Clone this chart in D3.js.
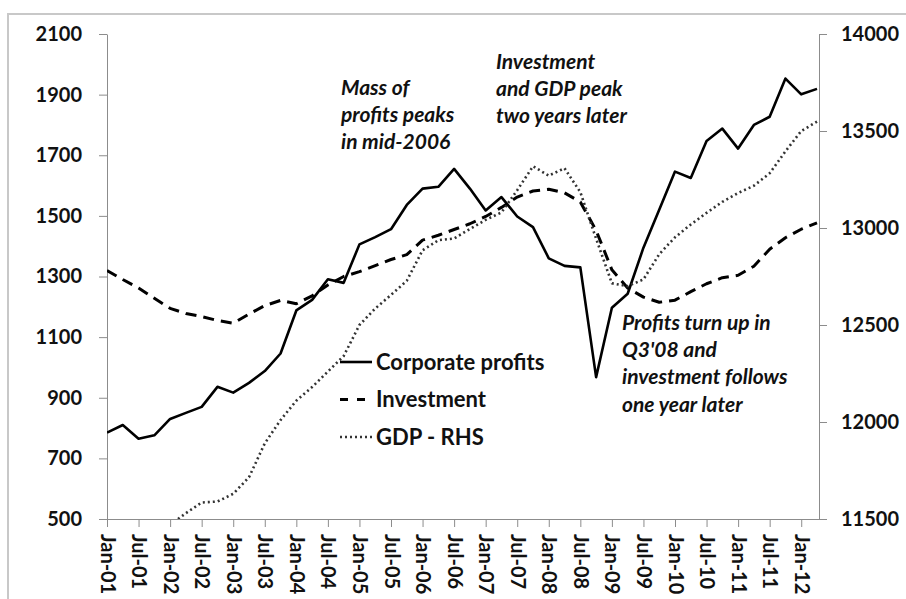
<!DOCTYPE html>
<html>
<head>
<meta charset="utf-8">
<script src="https://cdn.jsdelivr.net/npm/d3@7"></script>
<style>
  body { margin: 0; background: #fff; }
  svg { display: block; font-family: Lato, "Open Sans", sans-serif; }
  .tick text { fill: #111; }
</style>
</head>
<body>
<svg id="D3Container"></svg>
<script>
// Quarterly series, Q1 2001 to Q2 2012 (index 0 = Jan-01)
const profits = [
  785, 810, 765, 776, 830, 850, 870, 936, 917, 949, 988, 1046,
  1188, 1223, 1291, 1279, 1406, 1430, 1456, 1536, 1590, 1596, 1655, 1590,
  1518, 1562, 1498, 1463, 1360, 1335, 1330, 968, 1197, 1243, 1395, 1520,
  1646, 1625, 1747, 1788, 1722, 1800, 1827, 1953, 1901, 1919
];
const investment = [
  1320, 1290, 1262, 1228, 1195, 1178, 1168, 1155, 1146, 1176, 1204, 1221,
  1210, 1236, 1272, 1300, 1316, 1336, 1356, 1372, 1420, 1436, 1455, 1474,
  1498, 1528, 1562, 1582, 1588, 1576, 1546, 1452, 1322, 1262, 1232, 1215,
  1222, 1250, 1276, 1296, 1304, 1334, 1390, 1428, 1456, 1477
];
const gdp = [
  11360, 11370, 11360, 11400, 11470, 11530, 11585, 11590, 11630, 11715, 11890, 12010,
  12110, 12180, 12260, 12340, 12500, 12585, 12655, 12728, 12885, 12937, 12946, 12995,
  13042, 13080, 13195, 13318, 13270, 13308, 13185, 12945, 12715, 12700, 12735, 12865,
  12952, 13018, 13078, 13135, 13180, 13218, 13282, 13395, 13500, 13548
];
const tickLabels = [
  "Jan-01", "Jul-01", "Jan-02", "Jul-02", "Jan-03", "Jul-03", "Jan-04", "Jul-04",
  "Jan-05", "Jul-05", "Jan-06", "Jul-06", "Jan-07", "Jul-07", "Jan-08", "Jul-08",
  "Jan-09", "Jul-09", "Jan-10", "Jul-10", "Jan-11", "Jul-11", "Jan-12"
];
const leftTicks = [500, 700, 900, 1100, 1300, 1500, 1700, 1900, 2100];
const rightTicks = [11500, 12000, 12500, 13000, 13500, 14000];
const legendNames = ["Corporate profits", "Investment", "GDP - RHS"];
const notes = [
  {lines: ["Mass of", "profits peaks", "in mid-2006"], x: 341, y: 95},
  {lines: ["Investment", "and GDP peak", "two years later"], x: 496, y: 69},
  {lines: ["Profits turn up in", "Q3'08 and", "investment follows", "one year later"], x: 622, y: 330}
];

const width = 906, height = 599;
const plot = {left: 107, right: 819, top: 34, bottom: 519};

const svg = d3.select("#D3Container")
  .attr("width", width)
  .attr("height", height);

// light frame round the chart area
svg.append("rect")
  .attr("x", 8).attr("y", 14)
  .attr("width", 910).attr("height", 600)
  .attr("fill", "none")
  .attr("stroke", "#c8c8c8")
  .attr("stroke-width", 2);

const x = d3.scaleLinear().domain([0, 45]).range([plot.left, 817]);
const yLeft = d3.scaleLinear().domain([500, 2100]).range([plot.bottom, plot.top]);
const yRight = d3.scaleLinear().domain([11500, 14000]).range([plot.bottom, plot.top]);

svg.append("defs").append("clipPath").attr("id", "plotClip")
  .append("rect")
  .attr("x", plot.left).attr("y", plot.top - 5)
  .attr("width", plot.right - plot.left + 2)
  .attr("height", plot.bottom - plot.top + 5);

function styleAxis(g) {
  g.attr("font-family", null);
  g.select(".domain").attr("stroke", "#8c8c8c");
  g.selectAll(".tick line").attr("stroke", "#8c8c8c");
  g.selectAll(".tick text")
    .attr("font-size", 20)
    .attr("font-weight", "bold");
}

svg.append("g")
  .attr("transform", `translate(${plot.left},0)`)
  .call(d3.axisLeft(yLeft).tickValues(leftTicks).tickFormat(d3.format("d"))
    .tickSize(8).tickSizeOuter(0).tickPadding(17))
  .call(styleAxis);

svg.append("g")
  .attr("transform", `translate(${plot.right},0)`)
  .call(d3.axisRight(yRight).tickValues(rightTicks).tickFormat(d3.format("d"))
    .tickSize(8).tickSizeOuter(0).tickPadding(14))
  .call(styleAxis);

const xAxis = d3.axisBottom(x)
  .tickValues(tickLabels.map((d, i) => i * 2))
  .tickFormat((d) => tickLabels[d / 2])
  .tickSize(8)
  .tickSizeOuter(0);

const xg = svg.append("g")
  .attr("transform", `translate(0,${plot.bottom})`)
  .call(xAxis)
  .call(styleAxis);

xg.select(".domain").attr("d", `M${plot.left},0.5H${plot.right}`);
xg.selectAll(".tick text")
  .attr("transform", "rotate(90)")
  .attr("text-anchor", "start")
  .attr("x", 15)
  .attr("y", 0)
  .attr("dy", "0.35em");

const series = [
  {values: profits, y: yLeft, dash: null, legendDash: null, width: 2.6, color: "#000"},
  {values: investment, y: yLeft, dash: "11,7", legendDash: "8,9", width: 3, color: "#000"},
  {values: gdp, y: yRight, dash: "2,3", legendDash: "2,3", width: 2.6, color: "#333"}
];

const lines = svg.append("g").attr("clip-path", "url(#plotClip)");

series.forEach((s) => {
  const line = d3.line()
    .x((d, i) => x(i))
    .y((d) => s.y(d));

  lines.append("path")
    .datum(s.values)
    .attr("d", line)
    .attr("fill", "none")
    .attr("stroke", s.color)
    .attr("stroke-width", s.width)
    .attr("stroke-dasharray", s.dash)
    .attr("stroke-linejoin", "round");
});

// legend
const legend = svg.append("g").attr("transform", "translate(340,362)");

legendNames.forEach((name, i) => {
  const row = legend.append("g").attr("transform", `translate(0,${i * 37.5})`);
  row.append("line")
    .attr("x1", 0).attr("x2", 32)
    .attr("stroke", series[i].color)
    .attr("stroke-width", series[i].width)
    .attr("stroke-dasharray", series[i].legendDash);
  row.append("text")
    .attr("x", 36)
    .attr("dy", "0.35em")
    .attr("font-size", 22)
    .attr("font-weight", "bold")
    .attr("fill", "#111")
    .text(name);
});

// annotations
notes.forEach((note) => {
  const t = svg.append("text")
    .attr("font-size", 21)
    .attr("font-weight", "bold")
    .attr("font-style", "italic")
    .attr("fill", "#111");
  note.lines.forEach((line, i) => {
    t.append("tspan")
      .attr("x", note.x)
      .attr("y", note.y + i * 27.2)
      .text(line);
  });
});
</script>
</body>
</html>
